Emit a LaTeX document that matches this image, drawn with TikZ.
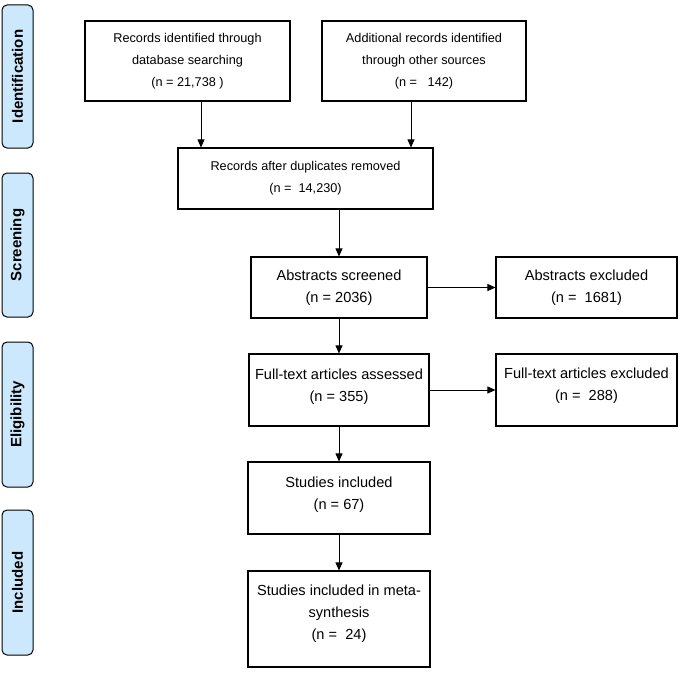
\documentclass[tikz,border=0pt]{standalone}
\usepackage{fontspec}
\setmainfont{Liberation Sans}
\usepackage{xcolor}
\usetikzlibrary{positioning,arrows.meta}
\definecolor{phaseblue}{RGB}{204,232,252}

\begin{document}
\begin{tikzpicture}[
  x=1pt, y=-1pt,
  box/.style={
    draw=black,
    line width=1.1pt,
    align=center,
    inner sep=0pt,
    font=\fontsize{12.7}{22}\selectfont
  },
  bigbox/.style={
    box,
    font=\fontsize{14.6}{22}\selectfont
  },
  phase/.style={
    draw=black,
    fill=phaseblue,
    line width=1pt,
    rounded corners=5pt,
    minimum height=31pt,
    inner sep=0pt,
    rotate=90,
    font=\fontsize{15}{18}\selectfont\bfseries
  },
  arrow/.style={-{Triangle[length=8pt,width=7pt]}, line width=0.8pt}
]
  \useasboundingbox (0,0) rectangle (687,674);

  % phases
  \node[phase, minimum width=143pt] (ident)  at (17.5,76.5)  {Identification};
  \node[phase, minimum width=144pt] (screen) at (17.5,245)   {Screening};
  \node[phase, minimum width=145pt] (elig)   at (17.5,414.5) {Eligibility};
  \node[phase, minimum width=145pt] (incl)   at (17.5,582.5) {Included};

  % boxes
  \node[box, minimum width=205pt, minimum height=80pt] (database) at (187.5,61)
    {Records identified through\\database searching\\(n = 21,738 )};
  \node[box, minimum width=204pt, minimum height=80pt] (other) at (424,61)
    {Additional records identified\\through other sources\\(n = \ \ 142)};
  \node[box, minimum width=255pt, minimum height=61pt] (dupes) at (305.5,178.5)
    {Records after duplicates removed\\(n = \ 14,230)};
  \node[bigbox, minimum width=176pt, minimum height=61pt] (screened) at (339,287.5)
    {Abstracts screened\\(n = 2036)};
  \node[bigbox, minimum width=181pt, minimum height=61pt] (absexcl) at (586.5,287.5)
    {Abstracts excluded\\(n = \ 1681)};
  \node[bigbox, minimum width=180pt, minimum height=72pt] (assessed) at (339,390)
    {Full-text articles assessed\\(n = 355)\\[-12pt]};
  \node[bigbox, minimum width=181pt, minimum height=72pt] (ftexcl) at (586.5,390)
    {Full-text articles excluded\\(n = \ 288)\\[-10pt]};
  \node[bigbox, minimum width=182pt, minimum height=72pt] (studies) at (339,498)
    {Studies included\\(n = 67)\\[-13pt]};
  \node[bigbox, minimum width=182pt, minimum height=96pt] (meta) at (339,619)
    {Studies included in meta-\\synthesis\\(n = \ 24)\\[-9pt]};

  % arrows
  \draw[arrow] ([xshift=13.5pt]database.south) -- ([xshift=13.5pt]database.south |- dupes.north);
  \draw[arrow] ([xshift=-13pt]other.south) -- ([xshift=-13pt]other.south |- dupes.north);
  \draw[arrow] (screened.north |- dupes.south) -- (screened.north);
  \draw[arrow] (screened) -- (absexcl);
  \draw[arrow] (screened) -- (assessed);
  \draw[arrow] (assessed) -- (ftexcl);
  \draw[arrow] (assessed) -- (studies);
  \draw[arrow] (studies) -- (meta);

\end{tikzpicture}
\end{document}
